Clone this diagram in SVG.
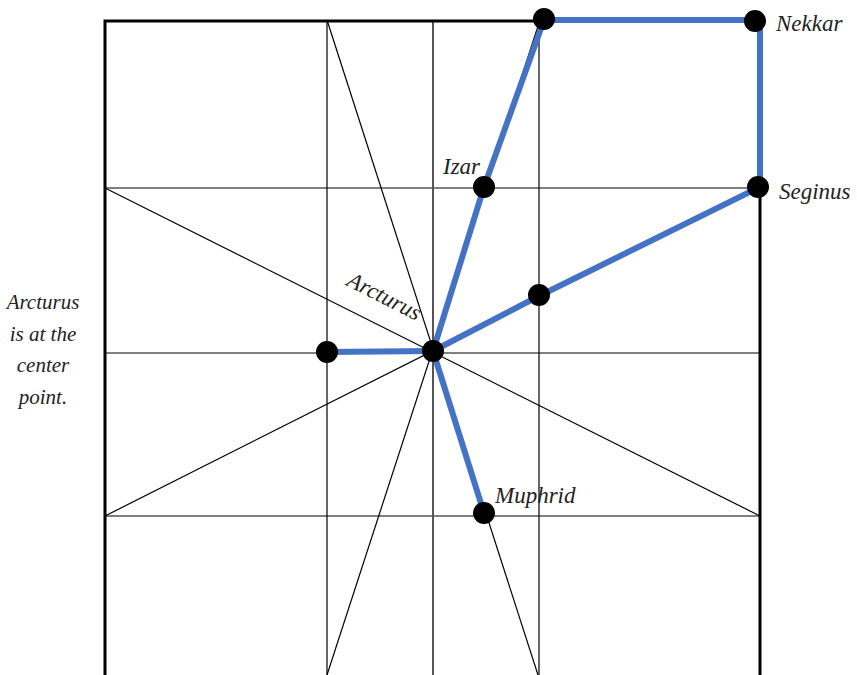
<svg xmlns="http://www.w3.org/2000/svg" width="857" height="675" viewBox="0 0 857 675">
<style>
.thin{stroke:#000;stroke-width:1.2;fill:none}
.border{stroke:#000;stroke-width:3;fill:none}
.mid{stroke:#555;stroke-width:2;fill:none}
.blue{stroke:#4472C4;stroke-width:6;fill:none;stroke-linejoin:miter;stroke-linecap:butt}
.dot{fill:#000}
</style>
<rect width="857" height="675" fill="#fff"/>
<g id="grid">
<line class="thin" x1="105" y1="188" x2="760" y2="188"/>
<line class="thin" x1="105" y1="353" x2="760" y2="353"/>
<line class="thin" x1="105" y1="516" x2="760" y2="516"/>
<line class="thin" x1="327" y1="20" x2="327" y2="675"/>
<line class="mid" x1="433" y1="20" x2="433" y2="675"/>
<line class="thin" x1="539" y1="20" x2="539" y2="675"/>
<line class="thin" x1="327" y1="20" x2="538" y2="675"/>
<line class="thin" x1="327" y1="675" x2="540" y2="20"/>
<line class="thin" x1="105" y1="188" x2="760" y2="516"/>
<line class="thin" x1="105" y1="516" x2="760" y2="186"/>
<polyline class="border" points="105,675 105,21 544,21"/>
<line class="border" x1="760" y1="187" x2="760" y2="675"/>
</g>
<g id="connectors">
<line class="blue" x1="327" y1="352" x2="433" y2="351"/>
<polyline class="blue" points="433,351 484,187 544,20 760,20 760,187 539,296 433,351"/>
<line class="blue" x1="433" y1="351" x2="484" y2="513"/>
</g>
<g font-family="Liberation Serif, Times New Roman, serif" font-style="italic" fill="#222" font-size="23">
<g id="nekkar"><circle class="dot" cx="755" cy="21" r="11"/><text x="776" y="31">Nekkar</text></g>
<g id="top-corner"><circle class="dot" cx="544" cy="19" r="11"/></g>
<g id="seginus"><circle class="dot" cx="758" cy="187" r="11"/><text x="779" y="199">Seginus</text></g>
<g id="izar"><circle class="dot" cx="484" cy="187" r="11"/><text x="443" y="174">Izar</text></g>
<g id="mid-point"><circle class="dot" cx="539" cy="295" r="11"/></g>
<g id="arcturus"><circle class="dot" cx="433" cy="351" r="11"/><text transform="translate(381,303) rotate(27)" text-anchor="middle">Arcturus</text></g>
<g id="left-point"><circle class="dot" cx="327" cy="352" r="11"/></g>
<g id="muphrid"><circle class="dot" cx="484" cy="513" r="11"/><text x="495" y="503">Muphrid</text></g>
<g id="note" font-size="21" text-anchor="middle">
<text x="43" y="309">Arcturus</text>
<text x="43" y="341">is at the</text>
<text x="43" y="372">center</text>
<text x="43" y="404">point.</text>
</g>
</g>
</svg>
